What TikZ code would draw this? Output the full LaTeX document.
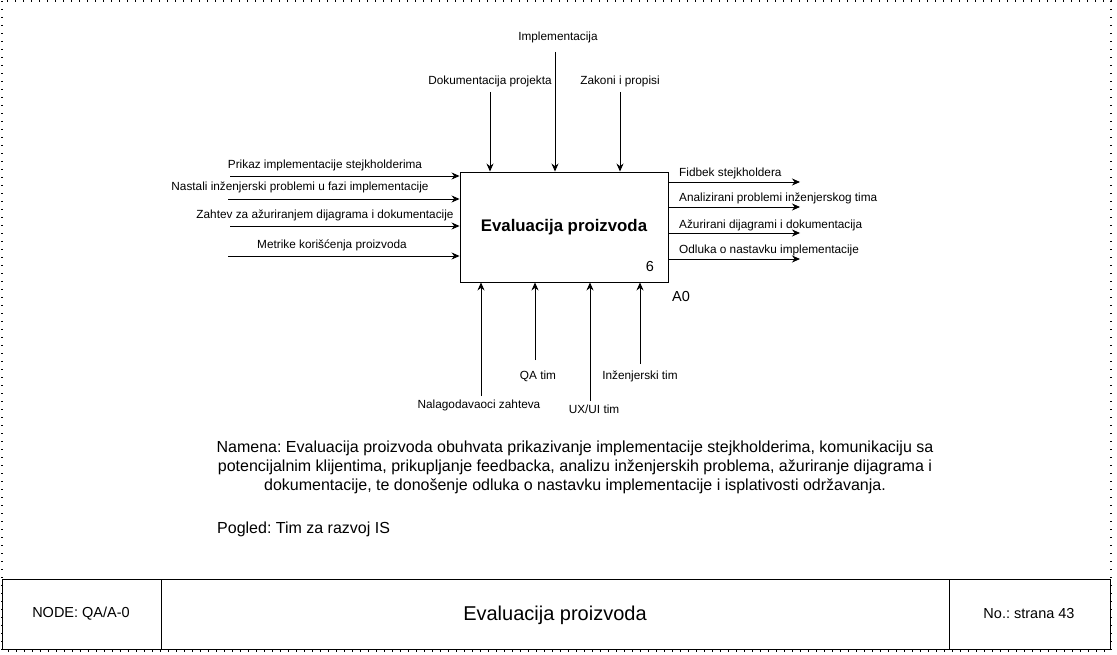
\documentclass[tikz,border=0pt]{standalone}
\usepackage{fontspec}
\setmainfont{Liberation Sans}
\usetikzlibrary{arrows.meta}
\frenchspacing
\begin{document}
\begin{tikzpicture}[x=1pt,y=-1pt,
  lbl/.style={inner sep=0pt,font=\fontsize{11.8}{13}\selectfont},
  arr/.style={line width=0.9pt,-{Stealth[length=8pt,width=7pt]}},
  frame/.style={line width=1.2pt,dash pattern=on 1.4pt off 6.6pt},
  cell/.style={line width=0.9pt}]
\useasboundingbox (0,0) rectangle (1117,655);
% outer dotted frame
\draw[frame] (2,1) rectangle (1111,651);
% main box
\node[draw,line width=0.9pt,minimum width=208pt,minimum height=110pt,inner sep=0pt,
      font=\fontsize{16.8}{19}\selectfont\bfseries] (box) at (564,227) {Evaluacija proizvoda};
\node[inner sep=0pt,font=\fontsize{14.5}{16}\selectfont] (num) at (650,267) {6};
\node[inner sep=0pt,font=\fontsize{14.5}{16}\selectfont] (a0) at (681,297) {A0};
% inputs
\coordinate (i1) at (230,176);
\coordinate (i2) at (228,199);
\coordinate (i3) at (230,226);
\coordinate (i4) at (228,256);
\draw[arr] (i1) -- (i1 -| box.west);
\draw[arr] (i2) -- (i2 -| box.west);
\draw[arr] (i3) -- (i3 -| box.west);
\draw[arr] (i4) -- (i4 -| box.west);
\node[lbl] (li1) at (325,165) {Prikaz implementacije stejkholderima};
\node[lbl] (li2) at (300,187) {Nastali inženjerski problemi u fazi implementacije};
\node[lbl] (li3) at (325,215) {Zahtev za ažuriranjem dijagrama i dokumentacije};
\node[lbl] (li4) at (332,245) {Metrike korišćenja proizvoda};
% controls
\coordinate (c1) at (490,92);
\coordinate (c2) at (555,52);
\coordinate (c3) at (620,92);
\draw[arr] (c1) -- (c1 |- box.north);
\draw[arr] (c2) -- (c2 |- box.north);
\draw[arr] (c3) -- (c3 |- box.north);
\node[lbl] (lc1) at (490,81) {Dokumentacija projekta};
\node[lbl] (lc2) at (558,37) {Implementacija};
\node[lbl] (lc3) at (620,81) {Zakoni i propisi};
% outputs
\coordinate (o1) at (800,182);
\coordinate (o2) at (800,207);
\coordinate (o3) at (800,233);
\coordinate (o4) at (800,259);
\draw[arr] (o1 -| box.east) -- (o1);
\draw[arr] (o2 -| box.east) -- (o2);
\draw[arr] (o3 -| box.east) -- (o3);
\draw[arr] (o4 -| box.east) -- (o4);
\node[lbl,anchor=west] (lo1) at (679,173) {Fidbek stejkholdera};
\node[lbl,anchor=west] (lo2) at (679,198) {Analizirani problemi inženjerskog tima};
\node[lbl,anchor=west] (lo3) at (679,225) {Ažurirani dijagrami i dokumentacija};
\node[lbl,anchor=west] (lo4) at (679,250) {Odluka o nastavku implementacije};
% mechanisms
\coordinate (m1) at (481,396);
\coordinate (m2) at (535,360);
\coordinate (m3) at (590,401);
\coordinate (m4) at (640,364);
\draw[arr] (m1) -- (m1 |- box.south);
\draw[arr] (m2) -- (m2 |- box.south);
\draw[arr] (m3) -- (m3 |- box.south);
\draw[arr] (m4) -- (m4 |- box.south);
\node[lbl] (lm1) at (479,405) {Nalagodavaoci zahteva};
\node[lbl] (lm2) at (538,376) {QA tim};
\node[lbl] (lm3) at (594,409) {UX/UI tim};
\node[lbl] (lm4) at (640,376) {Inženjerski tim};
% description
\node[inner sep=0pt,align=center,font=\fontsize{16}{19}\selectfont] (desc) at (575,467)
 {Namena: Evaluacija proizvoda obuhvata prikazivanje implementacije stejkholderima, komunikaciju sa\\
  potencijalnim klijentima, prikupljanje feedbacka, analizu inženjerskih problema, ažuriranje dijagrama i\\
  dokumentacije, te donošenje odluka o nastavku implementacije i isplativosti održavanja.};
\node[inner sep=0pt,anchor=west,font=\fontsize{16}{18}\selectfont] (pogled) at (217,529) {Pogled: Tim za razvoj IS};
% footer table
\draw[cell] (2,579) rectangle (1110,649);
\draw[cell] (161,579) -- (161,649);
\draw[cell] (949,579) -- (949,649);
\node[inner sep=0pt,font=\fontsize{14.5}{16}\selectfont] (fnode) at (81,614) {NODE: QA/A-0};
\node[inner sep=0pt,font=\fontsize{20}{23}\selectfont] (ftitle) at (555,615) {Evaluacija proizvoda};
\node[inner sep=0pt,font=\fontsize{14.5}{16}\selectfont] (fno) at (1029,614) {No.: strana 43};
\end{tikzpicture}
\end{document}
